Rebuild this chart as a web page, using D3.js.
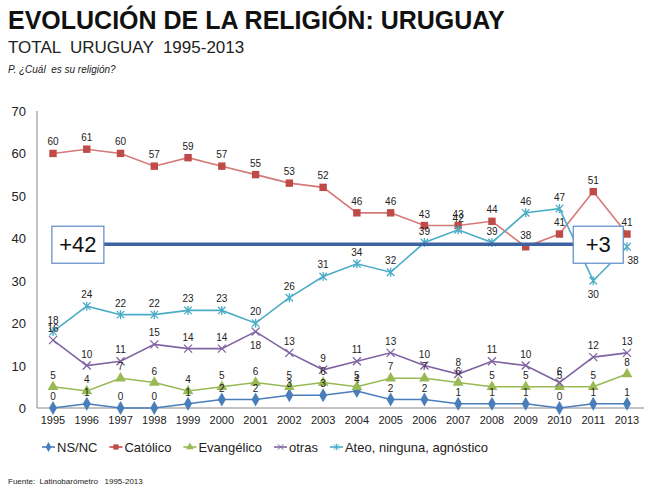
<!DOCTYPE html>
<html>
<head>
<meta charset="utf-8">
<script src="https://cdn.jsdelivr.net/npm/d3@7"></script>
<style>
  body { margin: 0; background: #fff; }
  text { font-family: Arial, "Liberation Sans", sans-serif; }
</style>
</head>
<body>
<div id="container"></div>
<script>
// Data
const years = ["1995","1996","1997","1998","1999","2000","2001","2002","2003","2004","2005","2006","2007","2008","2009","2010","2011","2013"];
const nsnc = [0,1,0,0,1,2,2,3,3,4,2,2,1,1,1,0,1,1];
const catolico = [60,61,60,57,59,57,55,53,52,46,46,43,43,44,38,41,51,41];
const evangelico = [5,4,7,6,4,5,6,5,6,5,7,7,6,5,5,5,5,8];
const otras = [16,10,11,15,14,14,18,13,9,11,13,10,8,11,10,6,12,13];
const ateo = [18,24,22,22,23,23,20,26,31,34,32,39,42,39,46,47,30,38];
const seriesNames = ["NS/NC", "Católico", "Evangélico", "otras", "Ateo, ninguna, agnóstico"];
const yTicks = [0,10,20,30,40,50,60,70];
const gapLevel = 38.6;
const gapLabels = ["+42", "+3"];

const width = 650, height = 494;

// custom stroke symbols for the "otras" (x) and "ateo" (asterisk) series
const symX = {
  draw(ctx, size) {
    const r = Math.sqrt(size) / 2;
    ctx.moveTo(-r, -r); ctx.lineTo(r, r);
    ctx.moveTo(-r, r); ctx.lineTo(r, -r);
  }
};
const symStar = {
  draw(ctx, size) {
    const r = Math.sqrt(size) / 2;
    ctx.moveTo(-r, -r); ctx.lineTo(r, r);
    ctx.moveTo(-r, r); ctx.lineTo(r, -r);
    ctx.moveTo(0, -r * 1.2); ctx.lineTo(0, r * 1.2);
  }
};

const series = [
  {name: seriesNames[0], values: nsnc, color: "#4a7ebb", sym: d3.symbolDiamond, size: 55, fill: true},
  {name: seriesNames[1], values: catolico, color: "#be4b48", sym: d3.symbolSquare, size: 55, fill: true, line: "#d47a78"},
  {name: seriesNames[2], values: evangelico, color: "#98b954", sym: d3.symbolTriangle, size: 50, fill: true},
  {name: seriesNames[3], values: otras, color: "#8064a2", sym: symX, size: 64, fill: false},
  {name: seriesNames[4], values: ateo, color: "#4bacc6", sym: symStar, size: 56, fill: false}
];

const svg = d3.select('#container')
  .append('svg')
  .attr('width', width)
  .attr('height', height);

// Titles
svg.append('text').attr('x', 8).attr('y', 29)
  .style('font-size', '25px').style('font-weight', 'bold').attr('fill', '#111')
  .text('EVOLUCIÓN DE LA RELIGIÓN: URUGUAY');
svg.append('text').attr('x', 8).attr('y', 53)
  .style('font-size', '17px').attr('fill', '#222')
  .attr('xml:space', 'preserve')
  .text('TOTAL  URUGUAY  1995-2013');
svg.append('text').attr('x', 8).attr('y', 73)
  .style('font-size', '10px').style('font-style', 'italic').attr('fill', '#222')
  .attr('xml:space', 'preserve')
  .text('P. ¿Cuál  es su religión?');

// Scales
const x = d3.scalePoint().domain(years).range([53, 627]);
const y = d3.scaleLinear().domain([0, 70]).range([408, 111]);

// Axes
svg.append('line').attr('x1', 37).attr('x2', 37).attr('y1', 111).attr('y2', 408)
  .attr('stroke', '#868686');
svg.append('line').attr('x1', 37).attr('x2', 644).attr('y1', 408).attr('y2', 408)
  .attr('stroke', '#868686');

svg.selectAll('.ytick')
  .data(yTicks)
  .enter().append('text')
  .attr('class', 'ytick')
  .attr('x', 26).attr('y', d => y(d) + 5)
  .attr('text-anchor', 'end')
  .style('font-size', '13px').attr('fill', '#222')
  .text(d => d);

svg.selectAll('.xtick')
  .data(years)
  .enter().append('text')
  .attr('class', 'xtick')
  .attr('x', d => x(d)).attr('y', 424)
  .attr('text-anchor', 'middle')
  .style('font-size', '11px').attr('fill', '#222')
  .text(d => d);

// Lines and markers
const line = d3.line()
  .x((d, i) => x(years[i]))
  .y(d => y(d));

series.forEach(s => {
  svg.append('path')
    .attr('d', line(s.values))
    .attr('fill', 'none')
    .attr('stroke', s.line || s.color)
    .attr('stroke-width', 1.6);
});

series.forEach(s => {
  const sym = d3.symbol().type(s.sym).size(s.size);
  svg.selectAll(null)
    .data(s.values)
    .enter().append('path')
    .attr('transform', (d, i) => `translate(${x(years[i])},${y(d)})`)
    .attr('d', sym)
    .attr('fill', s.fill ? s.color : 'none')
    .attr('stroke', s.color)
    .attr('stroke-width', s.fill ? 0 : 1.3);
});

// Data labels (a few sit below the point as in the reference)
const below = {"otras-2001": true, "Ateo, ninguna, agnóstico-2011": true, "Ateo, ninguna, agnóstico-2013": true};
series.forEach(s => {
  svg.selectAll(null)
    .data(s.values)
    .enter().append('text')
    .attr('x', (d, i) => x(years[i]) + (below[s.name + '-' + years[i]] && years[i] === '2013' ? 6 : 0))
    .attr('y', (d, i) => below[s.name + '-' + years[i]] ? y(d) + 17 : y(d) - 8)
    .attr('text-anchor', 'middle')
    .style('font-size', '10px').attr('fill', '#222')
    .text(d => d);
});

// Gap annotation: thick line with two boxed figures
const gapY = y(gapLevel);
svg.append('line')
  .attr('x1', x('1996') + 17).attr('x2', x('2010') + 14)
  .attr('y1', gapY).attr('y2', gapY)
  .attr('stroke', '#3d63a0').attr('stroke-width', 3.5);

const boxes = [
  {label: gapLabels[0], cx: (x('1995') + x('1996')) / 2 + 8, w: 52},
  {label: gapLabels[1], cx: x('2011') + 5, w: 50}
];
boxes.forEach(b => {
  svg.append('rect')
    .attr('x', b.cx - b.w / 2).attr('y', gapY - 18)
    .attr('width', b.w).attr('height', 37)
    .attr('fill', '#fff').attr('stroke', '#5b8bc9').attr('stroke-width', 1.2);
  svg.append('text')
    .attr('x', b.cx).attr('y', gapY + 8)
    .attr('text-anchor', 'middle')
    .style('font-size', '22px').attr('fill', '#111')
    .text(b.label);
});

// Legend
const legend = svg.append('g').attr('transform', 'translate(42,447)');
let lx = 0;
series.forEach(s => {
  const g = legend.append('g').attr('transform', `translate(${lx},0)`);
  g.append('line').attr('x1', 0).attr('x2', 13).attr('y1', 0).attr('y2', 0)
    .attr('stroke', s.color).attr('stroke-width', 1.6);
  g.append('path')
    .attr('transform', 'translate(6.5,0)')
    .attr('d', d3.symbol().type(s.sym).size(s.size * 0.5))
    .attr('fill', s.fill ? s.color : 'none')
    .attr('stroke', s.color).attr('stroke-width', s.fill ? 0 : 1);
  const t = g.append('text').attr('x', 15).attr('y', 5)
    .style('font-size', '13px').attr('fill', '#222')
    .text(s.name);
  lx += 15 + t.node().getComputedTextLength() + 12;
});

// Source
svg.append('text').attr('x', 8).attr('y', 484)
  .style('font-size', '8px').attr('fill', '#222')
  .attr('xml:space', 'preserve')
  .text('Fuente:  Latinobarómetro   1995-2013');
</script>
</body>
</html>
